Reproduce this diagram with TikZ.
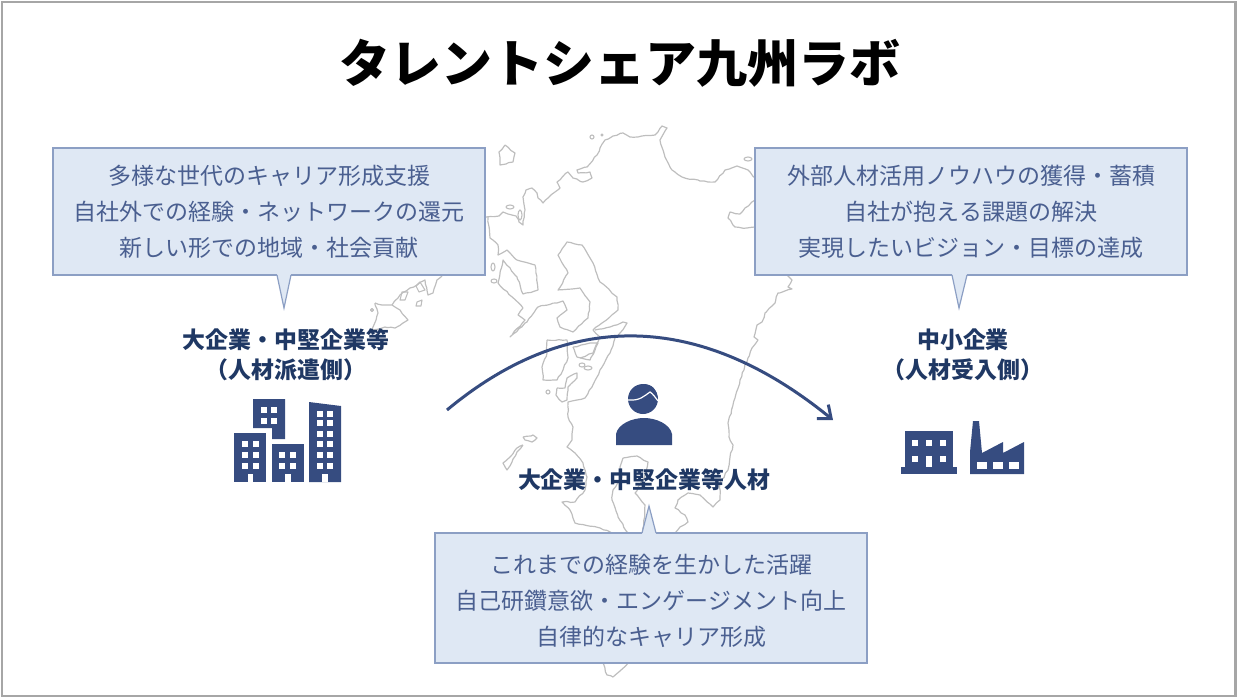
\documentclass[tikz,border=0pt]{standalone}
\usepackage{fontspec}
\usetikzlibrary{arrows.meta,decorations.pathmorphing}
\setmainfont{Noto Sans CJK JP}
\definecolor{navy}{HTML}{1F3864}
\definecolor{iconblue}{HTML}{364C80}
\definecolor{boxfill}{HTML}{DFE8F4}
\definecolor{boxline}{HTML}{8C9FC4}
\definecolor{boxtext}{HTML}{4A5F90}
\definecolor{mapline}{HTML}{BEBEBE}
\definecolor{frameline}{HTML}{A6A6A6}
\tikzset{
	infobox/.style={draw=boxline,fill=boxfill,line width=1.2pt,minimum width=432pt,inner sep=0pt,text=boxtext,align=center,font=\fontsize{23}{36}\selectfont},
	boxtail/.style={fill=boxfill},
	tailline/.style={draw=boxline,line width=1.2pt},
	orglabel/.style={text=navy,align=center,font=\fontsize{22.9}{30}\selectfont\bfseries},
	coast/.style={draw=mapline,line width=1.2pt,line join=round,decorate,decoration={random steps,segment length=4pt,amplitude=.6pt}},
	islet/.style={draw=mapline,line width=1.1pt,line join=round},
	icon/.style={fill=iconblue},
	hole/.style={fill=white}
}
\pgfmathsetseed{7}
\begin{document}
\begin{tikzpicture}[x=1pt,y=-1pt]
	\useasboundingbox (0,0) rectangle (1237,698);
	\draw[frameline,line width=2.4pt] (2,2) rectangle (1235.5,696);

	\node[font=\fontsize{51}{60}\selectfont\bfseries] (title) at (620,63) {タレントシェア九州ラボ};

	% map
	\draw[coast] (486,217) -- (499,216) -- (503,212) -- (508,214) -- (516,216) -- (519,222) -- (523,225) -- (525,210) -- (523,197) -- (526,190) -- (532,188) -- (537,193) -- (538,198) -- (543,203) -- (555,192) -- (560,188) -- (557,182) -- (568,172) -- (573,178) -- (583,182) -- (592,178) -- (590,172) -- (578,173) -- (577,170) -- (587,167) -- (597,155) -- (600,148) -- (605,140) -- (613,136) -- (623,133) -- (630,137) -- (638,137) -- (655,135) -- (662,126) -- (667,128) -- (660,140) -- (665,157) -- (672,170) -- (682,177) -- (700,181) -- (715,182) -- (725,170) -- (737,166) -- (748,170) -- (755,178) -- (790,270);
	\draw[coast] (755,200) -- (745,208) -- (740,214) -- (730,212) -- (728,218) -- (735,227) -- (747,228) -- (755,227);
	\draw[coast] (787,270) -- (787,275) -- (792,280) -- (788,287) -- (792,289) -- (778,293) -- (775,303) -- (765,313) -- (762,322) -- (757,325) -- (754,337) -- (758,340) -- (752,348) -- (748,358) -- (740,380) -- (735,398) -- (728,423) -- (729,437) -- (733,445) -- (730,457) -- (728,470) -- (720,483) -- (720,500) -- (713,507) -- (700,495) -- (688,493) -- (678,500) -- (675,508) -- (685,515) -- (688,522) -- (680,527) -- (675,533);
	\draw[coast] (602,660) -- (607,675) -- (613,677) -- (632,660);
	\draw[coast] (488,217) -- (490,238) -- (498,245) -- (498,255) -- (507,250) -- (517,260) -- (535,265) -- (538,290) -- (523,294) -- (517,277) -- (503,260) -- (498,283) -- (523,308) -- (518,315) -- (525,320) -- (510,337) -- (527,322) -- (538,307) -- (563,301) -- (567,310) -- (557,318) -- (560,327) -- (573,332) -- (588,318) -- (590,302) -- (580,288) -- (558,290) -- (568,273) -- (558,255) -- (567,242) -- (582,245) -- (593,263) -- (600,282) -- (617,297) -- (618,310) -- (602,323) -- (593,330) -- (600,337) -- (593,353) -- (580,358);
	\draw[coast] (595,330) -- (610,327) -- (623,322) -- (627,323) -- (620,333) -- (615,338) -- (610,353) -- (600,370) -- (592,387) -- (585,398) -- (577,400) -- (568,402) -- (568,417) -- (573,427) -- (572,440) -- (567,447) -- (575,453) -- (583,463) -- (587,477) -- (585,490) -- (575,502) -- (562,502) -- (570,510) -- (575,523) -- (600,528) -- (612,533);
	\draw[coast] (623,458) -- (637,456) -- (648,462) -- (643,480) -- (635,493) -- (645,505) -- (643,533);
	\draw[coast] (623,458) -- (620,467) -- (622,477) -- (613,490) -- (612,500) -- (618,517) -- (628,533);
	% islands
	\draw[coast] (547,340) -- (567,340) -- (568,358) -- (563,370) -- (557,380) -- (543,380) -- (542,367) -- (547,353) -- (547,340);
	\draw[coast] (573,347) -- (590,343) -- (598,343) -- (590,360) -- (577,357) -- (573,347);
	\draw[coast] (557,388) -- (565,388) -- (567,378) -- (577,373) -- (577,378) -- (568,387) -- (567,400) -- (562,402) -- (556,395) -- (557,388);
	\draw[coast] (505,145) -- (515,153) -- (513,162) -- (500,165) -- (499,152) -- (505,145);
	\draw[coast] (523,437) -- (533,435) -- (537,438) -- (532,442) -- (525,440) -- (523,437);
	\draw[coast] (523,445) -- (517,452) -- (512,462) -- (507,470) -- (503,463) -- (510,457) -- (517,448) -- (523,445);
	\draw[coast] (375,303) -- (382,305) -- (392,305) -- (400,310) -- (408,320) -- (403,323) -- (395,328) -- (385,327) -- (372,330) -- (373,327) -- (378,313) -- (375,303);
	\draw[coast] (392,305) -- (398,298) -- (400,295) -- (410,288) -- (417,285) -- (425,280) -- (428,295) -- (433,293) -- (437,280) -- (442,276);
	\draw[islet] (417,302) -- (422,300) -- (421,306) -- (416,306) -- cycle;
	\draw[islet] (402,292) -- (408,292) -- (405,300) -- (400,300) -- cycle;
	\draw[islet] (420,282) -- (425,290) -- (419,292) -- (416,286) -- cycle;
	\draw[islet] (748,159) ellipse (4 and 2);
	\draw[islet] (372,310) circle (1.5);
	\draw[islet] (592,137) circle (2);
	\draw[islet] (602,135) circle (1);
	\draw[islet] (493,267) ellipse (2 and 4);
	\draw[islet] (494,281) ellipse (3 and 2);
	\draw[islet] (510,207) ellipse (4 and 2);
	\draw[islet] (520,215) ellipse (2 and 5);
	\draw[islet] (548,392) circle (2);
	\draw[islet] (588,368) ellipse (4 and 2);
	\draw[islet] (582,365) ellipse (3 and 2);

	% arc between the two company groups
	\coordinate (arcstart) at (447,410);
	\coordinate (arcend) at (833,420);
	\draw[iconblue,line width=3pt,-{Straight Barb[length=11pt,width=18pt,line width=3pt]}] (arcstart) .. controls (567,310) and (698,310) .. (arcend);

	% office buildings
	\fill[icon] (253,399) -- (285,399) -- (285,439) -- (272,439) -- (272,428) -- (253,428) -- cycle;
	\fill[icon] (234,433) rectangle (266,482);
	\fill[icon] (272,444) rectangle (304,482);
	\fill[icon] (309,402) -- (341,406) -- (341,482) -- (309,482) -- cycle;
	\foreach \x in {264,274} \foreach \y in {410,421} \fill[hole] (\x-2.7,\y-2.7) rectangle (\x+2.7,\y+2.7);
	\foreach \x in {245,256} \foreach \y in {444,455,466} \fill[hole] (\x-2.7,\y-2.7) rectangle (\x+2.7,\y+2.7);
	\foreach \x in {282,293} \foreach \y in {455,466} \fill[hole] (\x-2.7,\y-2.7) rectangle (\x+2.7,\y+2.7);
	\foreach \x in {320,330} \foreach \y in {414,423,434,444,455,466} \fill[hole] (\x-2.7,\y-2.7) rectangle (\x+2.7,\y+2.7);
	\foreach \x in {250.5,288,325} \fill[hole] (\x-2.7,474) rectangle (\x+2.7,482);

	% small office and factory
	\fill[icon] (905,431) rectangle (953,467);
	\fill[icon] (901,467) rectangle (957,474);
	\foreach \x in {915,929,943} \fill[hole] (\x-3,440) rectangle (\x+3,446);
	\foreach \x in {915,943} \fill[hole] (\x-3,456) rectangle (\x+3,462);
	\fill[hole] (926,456) rectangle (932,467);
	\fill[icon] (970,474) -- (970,452) -- (973,421) -- (979,421) -- (982,453) -- (1003,442) -- (1003,453) -- (1024,442) -- (1024,474) -- cycle;
	\foreach \x in {982,998,1014} \fill[hole] (\x-5,462) rectangle (\x+5,469);

	% person
	\fill[icon] (643,399) circle (15);
	\fill[icon] (643,384) .. controls (652,384) and (658,390) .. (657,398) -- (645,398) -- cycle;
	\draw[white,line width=1.2pt] (628,400) .. controls (640,401) and (644,396) .. (650,392) .. controls (653,394) and (655,397) .. (658,401);
	\fill[icon] (616,445) -- (616,434) .. controls (618,424) and (632,418) .. (644,418) .. controls (656,418) and (670,424) .. (672,434) -- (672,445) -- cycle;

	% speech boxes
	\node[infobox,minimum height=127pt] (leftbox) at (269,211.5) {多様な世代のキャリア形成支援\\自社外での経験・ネットワークの還元\\新しい形での地域・社会貢献};
	\node[infobox,minimum height=127pt] (rightbox) at (971,211.5) {外部人材活用ノウハウの獲得・蓄積\\自社が抱える課題の解決\\実現したいビジョン・目標の達成};
	\node[infobox,minimum height=130pt] (bottombox) at (651,598) {\rule{0pt}{26pt}これまでの経験を生かした活躍\\自己研鑽意欲・エンゲージメント向上\\自律的なキャリア形成};

	\fill[boxtail] (277,274) -- (284,308) -- (291,274) -- cycle;
	\draw[tailline] (277,275) -- (284,308) -- (291,275);
	\fill[boxtail] (952,274) -- (959,308) -- (967,274) -- cycle;
	\draw[tailline] (952,275) -- (959,308) -- (967,275);
	\fill[boxtail] (642,534) -- (649,506) -- (656,534) -- cycle;
	\draw[tailline] (642,533) -- (649,506) -- (656,533);

	% labels
	\node[orglabel] (bigfirms) at (286,355) {大企業・中堅企業等\\（人材派遣側）};
	\node[orglabel] (smallfirms) at (963,355) {中小企業\\（人材受入側）};
	\node[orglabel] (talent) at (644,480) {大企業・中堅企業等人材};
\end{tikzpicture}
\end{document}
